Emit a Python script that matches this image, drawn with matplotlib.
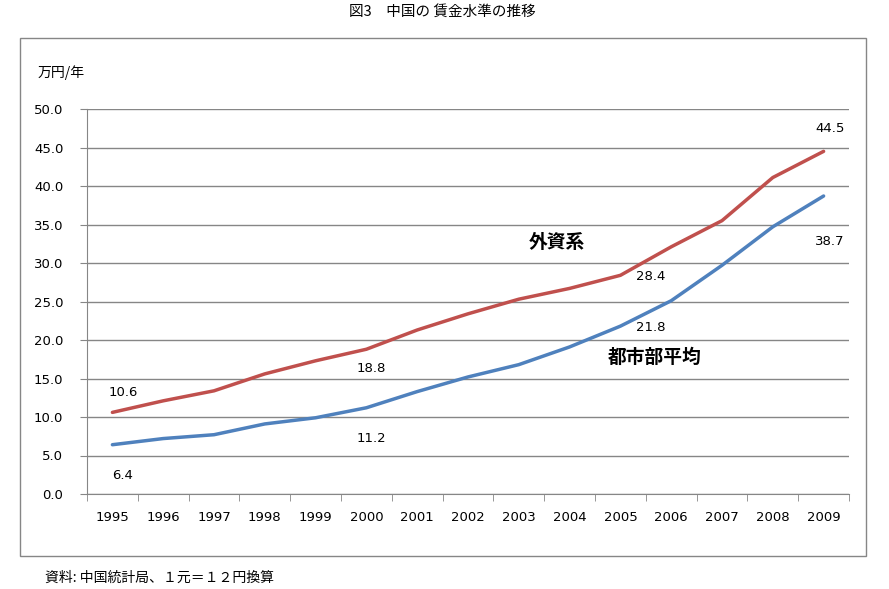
import numpy as np
import matplotlib
matplotlib.use("Agg")
import matplotlib.pyplot as plt
from matplotlib.patches import Rectangle

plt.rcParams['font.family'] = ['DejaVu Sans', 'Noto Sans CJK JP']

years = ["1995", "1996", "1997", "1998", "1999", "2000", "2001", "2002",
         "2003", "2004", "2005", "2006", "2007", "2008", "2009"]
foreign = [10.6, 12.1, 13.4, 15.6, 17.3, 18.8, 21.3, 23.4,
           25.3, 26.7, 28.4, 32.1, 35.5, 41.1, 44.5]
urban = [6.4, 7.2, 7.7, 9.1, 9.9, 11.2, 13.3, 15.2,
         16.8, 19.1, 21.8, 25.1, 29.7, 34.7, 38.7]

# labelled points: index, offset in pixels (up positive)
foreign_lab = [(0, 11, 20), (5, 5, -19), (10, 30, -1), (14, 6, 23)]
urban_lab = [(0, 10, -31), (5, 5, -31), (10, 30, -1), (14, 6, -45)]

red = "#C0504D"
blue = "#4F81BD"
grid_c = "#868686"
jp = ['Noto Sans CJK JP', 'DejaVu Sans']

fig = plt.figure(figsize=(8.89, 5.89), dpi=100)
ax = fig.add_axes([87/889, 1-494/589, 762/889, 385/589])

x = np.arange(len(years))
ax.plot(x, foreign, color=red, lw=2.5, solid_capstyle='round', zorder=3)
ax.plot(x, urban, color=blue, lw=2.5, solid_capstyle='round', zorder=3)

for i, dx, dy in foreign_lab:
    ax.annotate(f"{foreign[i]:.1f}", (x[i], foreign[i]), xytext=(dx, dy),
                textcoords='offset pixels', ha='center', va='center', fontsize=9.5)
for i, dx, dy in urban_lab:
    ax.annotate(f"{urban[i]:.1f}", (x[i], urban[i]), xytext=(dx, dy),
                textcoords='offset pixels', ha='center', va='center', fontsize=9.5)

ax.text(8.75, 32.7, "外資系", ha='center', va='center', fontsize=13.5,
        fontweight='bold', family=jp)
ax.text(10.68, 17.7, "都市部平均", ha='center', va='center', fontsize=13.5,
        fontweight='bold', family=jp)

ax.set_xlim(-0.5, len(years)-0.5)
ax.set_ylim(0, 50)
ax.set_yticks(np.arange(0, 51, 5))
ax.set_yticklabels([f"{v:.1f}" for v in np.arange(0, 51, 5)], fontsize=9.5)
ax.set_xticks(x)
ax.set_xticklabels(years, fontsize=9.5)
ax.set_xticks(np.arange(-0.5, len(years), 1), minor=True)
ax.tick_params(axis='x', which='major', length=0, pad=12)
ax.tick_params(axis='x', which='minor', length=5, color=grid_c, direction='out')
ax.tick_params(axis='y', length=5, color=grid_c, pad=12)
ax.yaxis.grid(True, color=grid_c, lw=1)
ax.set_axisbelow(True)
for s in ['top', 'right']:
    ax.spines[s].set_visible(False)
for s in ['left', 'bottom']:
    ax.spines[s].set_color(grid_c)

fig.text(38/889, 1-73/589, "万円/年", fontsize=10, va='center', family=jp)
fig.text(442/889, 1-12/589, "図3　中国の 賃金水準の推移", fontsize=10.5, ha='center',
         va='center', family=jp)
fig.text(45/889, 1-578/589, "資料: 中国統計局、１元＝１２円換算", fontsize=10,
         va='center', family=jp)

fig.patches.append(Rectangle((20/889, 1-556/589), 846/889, 518/589,
                             transform=fig.transFigure, fill=False,
                             edgecolor=grid_c, lw=1))

fig.savefig("out.png", dpi=100)
